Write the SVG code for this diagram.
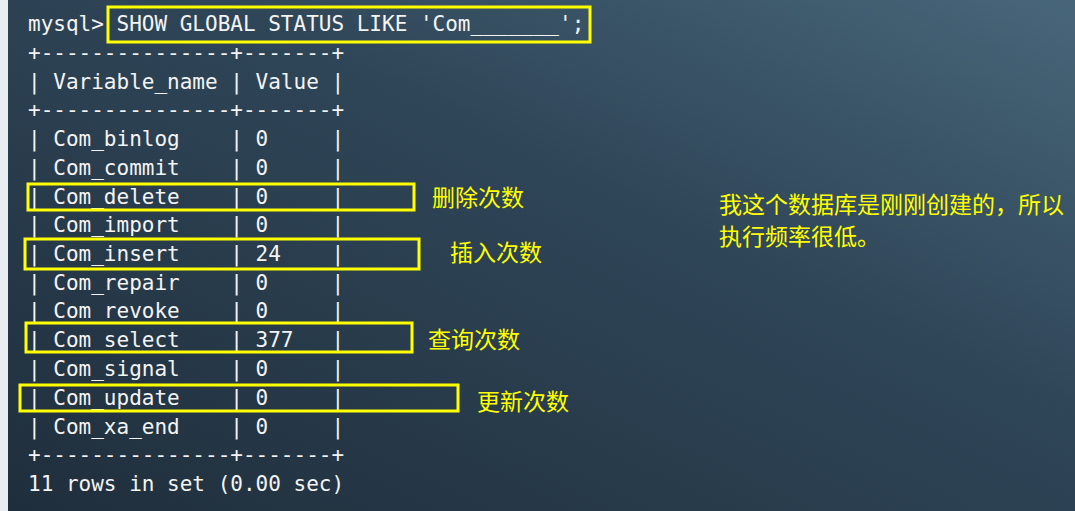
<svg xmlns="http://www.w3.org/2000/svg" width="1075" height="511" viewBox="0 0 1075 511">
<defs>
<linearGradient id="bg" x1="0" y1="1" x2="1" y2="0">
<stop offset="0" stop-color="#1f2e3c"/>
<stop offset="0.6" stop-color="#2f4658"/>
<stop offset="1" stop-color="#48667a"/>
</linearGradient>
<style>
.t{font-family:"DejaVu Sans Mono","Liberation Mono",monospace;font-size:21px;fill:#f4f4f4;white-space:pre}
.b{fill:none;stroke:#ffff00;stroke-width:3}
.c{font-family:"Noto Sans CJK SC",sans-serif;font-size:23px;fill:#ffff00}
</style>
</defs>
<rect width="1075" height="511" fill="url(#bg)"/>
<rect x="0" y="0" width="8" height="511" fill="#e8edf2"/>
<g id="terminal">
<text class="t" x="28" y="31">mysql&gt; SHOW GLOBAL STATUS LIKE 'Com_______';</text>
<text class="t" x="28" y="60">+---------------+-------+</text>
<text class="t" x="28" y="89">| Variable_name | Value |</text>
<text class="t" x="28" y="117">+---------------+-------+</text>
<text class="t" x="28" y="146">| Com_binlog    | 0     |</text>
<text class="t" x="28" y="175">| Com_commit    | 0     |</text>
<text class="t" x="28" y="204">| Com_delete    | 0     |</text>
<text class="t" x="28" y="232">| Com_import    | 0     |</text>
<text class="t" x="28" y="261">| Com_insert    | 24    |</text>
<text class="t" x="28" y="290">| Com_repair    | 0     |</text>
<text class="t" x="28" y="318">| Com_revoke    | 0     |</text>
<text class="t" x="28" y="347">| Com_select    | 377   |</text>
<text class="t" x="28" y="376">| Com_signal    | 0     |</text>
<text class="t" x="28" y="405">| Com_update    | 0     |</text>
<text class="t" x="28" y="434">| Com_xa_end    | 0     |</text>
<text class="t" x="28" y="462">+---------------+-------+</text>
<text class="t" x="28" y="491">11 rows in set (0.00 sec)</text>
</g>
<g id="highlights">
<rect class="b" x="108" y="7" width="482" height="35"/>
<rect class="b" x="28" y="184" width="386" height="26"/>
<rect class="b" x="25" y="239" width="394" height="30"/>
<rect class="b" x="26" y="323" width="386" height="29"/>
<rect class="b" x="20" y="385" width="438" height="26"/>
</g>
<g id="labels">
<text class="c" x="432" y="206">删除次数</text>
<text class="c" x="450" y="261">插入次数</text>
<text class="c" x="428" y="348">查询次数</text>
<text class="c" x="477" y="410">更新次数</text>
<text class="c" x="719" y="213">我这个数据库是刚刚创建的，所以</text>
<text class="c" x="719" y="245">执行频率很低。</text>
</g>
</svg>
